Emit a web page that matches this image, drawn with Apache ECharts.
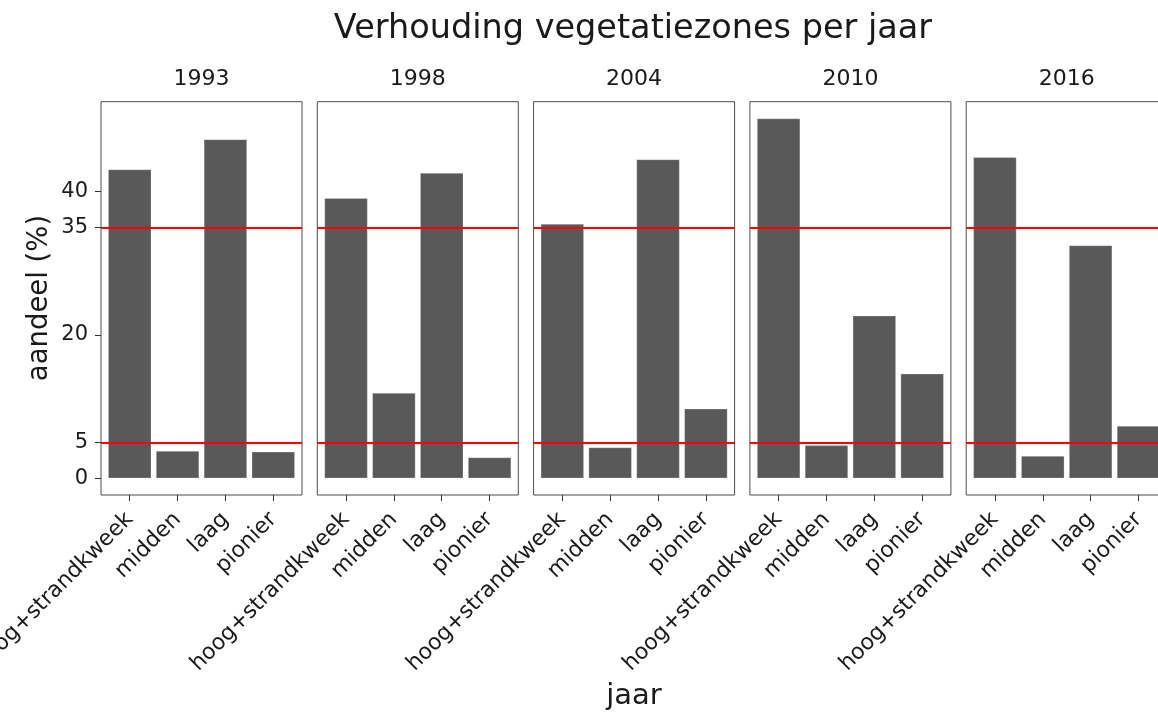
<!DOCTYPE html>
<html>
<head>
<meta charset="utf-8">
<script src="https://cdn.jsdelivr.net/npm/echarts@6/dist/echarts.min.js"></script>
<style>
    html, body { margin: 0; padding: 0; background: #fff; }
    #main { width: 1158px; height: 713px; }
</style>
</head>
<body>
<div id="main"></div>
<script>
// data
const years = ['1993', '1998', '2004', '2010', '2016']
const zones = ['hoog+strandkweek', 'midden', 'laag', 'pionier']
const share1993 = [43.1, 3.8, 47.3, 3.7]
const share1998 = [39.1, 11.9, 42.6, 2.9]
const share2004 = [35.5, 4.3, 44.5, 9.7]
const share2010 = [50.2, 4.6, 22.7, 14.6]
const share2016 = [44.8, 3.1, 32.5, 7.3]
const shares = [share1993, share1998, share2004, share2010, share2016]
const yTicks = [0, 5, 20, 35, 40]
const refLines = [5, 35]

// panel layout
const panelLeft = 101
const panelStep = 216.3
const panelWidth = 201
const panelTop = 101.7
const panelHeight = 393.3
const font = 'DejaVu Sans'
const textColor = '#1a1a1a'

const grids = []
const xAxes = []
const yAxes = []
const series = []
const graphics = []

years.forEach(function (year, i) {
    const left = panelLeft + i * panelStep
    grids.push({
        left: left,
        top: panelTop,
        width: panelWidth,
        height: panelHeight,
        show: true,
        borderColor: '#4d4d4d',
        borderWidth: 1,
        backgroundColor: '#fff',
        containLabel: false,
        outerBoundsMode: 'none'
    })
    xAxes.push({
        type: 'value',
        gridIndex: i,
        min: -0.6,
        max: 3.6,
        splitLine: { show: false },
        axisLine: { show: false, onZero: false },
        axisTick: {
            show: true,
            customValues: [0, 1, 2, 3],
            length: 6,
            lineStyle: { color: '#333' }
        },
        axisLabel: {
            customValues: [0, 1, 2, 3],
            rotate: 45,
            margin: 21,
            fontFamily: font,
            fontSize: 22,
            color: textColor,
            formatter: function (v) {
                return zones[Math.round(v)]
            }
        }
    })
    yAxes.push({
        type: 'value',
        gridIndex: i,
        min: -2.33,
        max: 52.56,
        splitLine: { show: false },
        axisLine: { show: false, onZero: false },
        axisTick: {
            show: i === 0,
            customValues: yTicks,
            length: 6,
            lineStyle: { color: '#333' }
        },
        axisLabel: {
            show: i === 0,
            customValues: yTicks,
            margin: 13,
            fontFamily: font,
            fontSize: 21,
            color: textColor
        }
    })
    series.push({
        type: 'bar',
        xAxisIndex: i,
        yAxisIndex: i,
        barWidth: '90%',
        data: shares[i].map(function (v, j) { return [j, v] }),
        itemStyle: {
            color: '#595959',
            borderColor: 'rgba(255,255,255,0.5)',
            borderWidth: 0.5
        },
        markLine: {
            silent: true,
            symbol: ['none', 'none'],
            label: { show: false },
            lineStyle: { color: '#ff0000', width: 2.2, type: 'solid' },
            data: refLines.map(function (v) { return { yAxis: v } })
        }
    })
    graphics.push({
        type: 'text',
        x: left + panelWidth / 2,
        y: 79,
        style: {
            text: year,
            align: 'center',
            verticalAlign: 'middle',
            font: '22px "DejaVu Sans"',
            fill: textColor
        }
    })
})

graphics.push({
    type: 'text',
    x: 633,
    y: 29,
    style: {
        text: 'Verhouding vegetatiezones per jaar',
        align: 'center',
        verticalAlign: 'middle',
        font: '33.5px "DejaVu Sans"',
        fill: textColor
    }
})
graphics.push({
    type: 'text',
    x: 40,
    y: 298,
    rotation: Math.PI / 2,
    style: {
        text: 'aandeel (%)',
        align: 'center',
        verticalAlign: 'middle',
        font: '27.5px "DejaVu Sans"',
        fill: textColor
    }
})
graphics.push({
    type: 'text',
    x: 634,
    y: 696,
    style: {
        text: 'jaar',
        align: 'center',
        verticalAlign: 'middle',
        font: '29px "DejaVu Sans"',
        fill: textColor
    }
})

const chart = echarts.init(document.getElementById('main'))
chart.setOption({
    animation: false,
    backgroundColor: '#fff',
    grid: grids,
    xAxis: xAxes,
    yAxis: yAxes,
    series: series,
    graphic: graphics
})
</script>
</body>
</html>
